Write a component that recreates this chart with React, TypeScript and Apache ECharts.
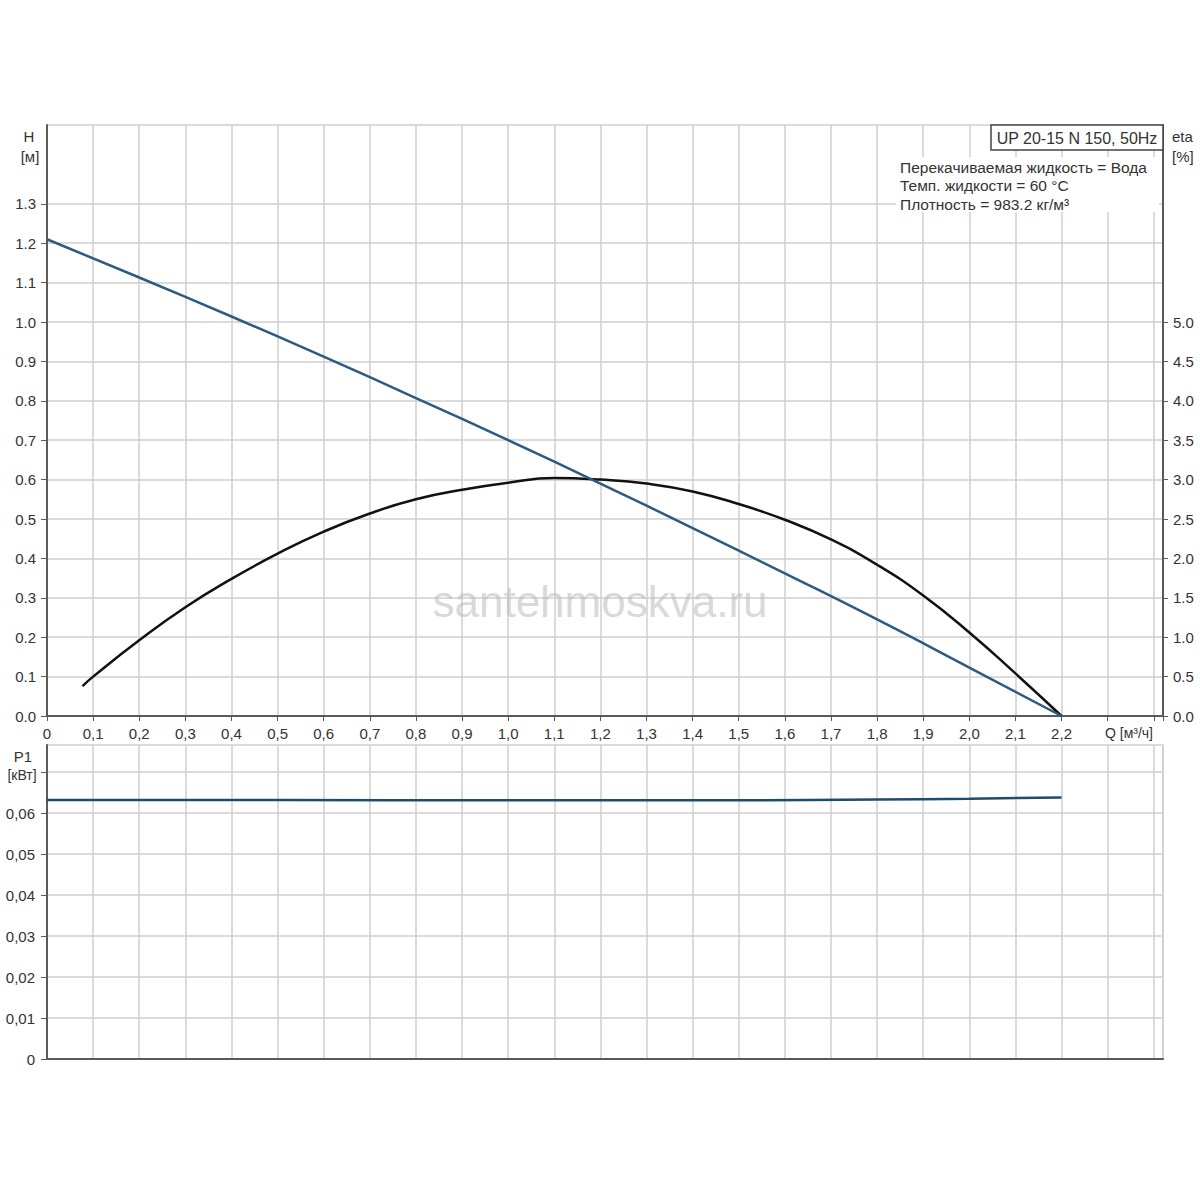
import React, { useEffect, useRef } from "react";
import * as echarts from "echarts";

// Flow Q [m³/h] for the head curve H [m]
const qHead = [0, 0.2, 0.4, 0.6, 0.8, 1.0, 1.2, 1.4, 1.6, 1.8, 2.0, 2.2];
const headValues = [1.21, 1.113, 1.014, 0.912, 0.807, 0.7, 0.59, 0.477, 0.362, 0.245, 0.123, 0.0];

// Efficiency eta [%]
const qEta = [0.077, 0.1, 0.2, 0.3, 0.4, 0.5, 0.6, 0.7, 0.8, 0.9, 1.0, 1.1, 1.2, 1.3, 1.4, 1.5, 1.6, 1.7, 1.8, 1.9, 2.0, 2.1, 2.2];
const etaValues = [0.38, 0.5, 0.96, 1.38, 1.74, 2.06, 2.34, 2.57, 2.75, 2.87, 2.96, 3.02, 3.0, 2.95, 2.85, 2.69, 2.49, 2.24, 1.92, 1.53, 1.06, 0.54, 0.0];

// Power P1 [kW]
const qPower = [0, 0.5, 1.0, 1.5, 1.8, 2.0, 2.2];
const powerValues = [0.0632, 0.0632, 0.0631, 0.0631, 0.0633, 0.0635, 0.0638];

// Axis settings and labelled ticks
const qMax = 2.42;
const qLabelMax = 2.2;
const headMax = 1.5;
const headTicks = [0, 0.1, 0.2, 0.3, 0.4, 0.5, 0.6, 0.7, 0.8, 0.9, 1.0, 1.1, 1.2, 1.3];
const etaMax = 7.5;
const etaTicks = [0, 0.5, 1.0, 1.5, 2.0, 2.5, 3.0, 3.5, 4.0, 4.5, 5.0];
const powerMax = 0.0766;
const powerTicks = [0, 0.01, 0.02, 0.03, 0.04, 0.05, 0.06, 0.07];
const powerLabelMax = 0.06;

const infoTitle = "UP 20-15 N 150, 50Hz";
const infoLines = [
  "Перекачиваемая жидкость = Вода",
  "Темп. жидкости = 60 °C",
  "Плотность = 983.2 кг/м³",
];

const FONT = "'Liberation Sans', Arial, sans-serif";
const GRID_COLOR = "#cfcfcf";
const AXIS_COLOR = "#5a5a5a";
const TEXT_COLOR = "#333";
const FS = 15;

export default function App() {
  const ref = useRef<HTMLDivElement>(null);

  useEffect(() => {
    if (!ref.current) return;
    const chart = echarts.init(ref.current, undefined, { renderer: "svg" });

    const pairs = (xs: number[], ys: number[]) => xs.map((x, i) => [x, ys[i]]);
    const near = (v: number, lim: number) => v <= lim + 1e-9;

    const xAxisBase = (gridIndex: number, showLabels: boolean) => ({
      type: "value",
      gridIndex,
      min: 0,
      max: qMax,
      interval: 0.1,
      axisLine: { show: true, onZero: false, lineStyle: { color: AXIS_COLOR, width: 2 } },
      axisTick: { show: showLabels, inside: false, length: 5, lineStyle: { color: AXIS_COLOR } },
      splitLine: { show: true, lineStyle: { color: GRID_COLOR, width: 1.5 } },
      axisLabel: {
        show: showLabels,
        margin: 10,
        fontSize: FS,
        fontFamily: FONT,
        color: TEXT_COLOR,
        showMaxLabel: true,
        formatter: (v: number) => {
          if (!near(v, qLabelMax)) return "";
          if (Math.abs(v) < 1e-9) return "0";
          return v.toFixed(1).replace(".", ",");
        },
      },
    });

    const option: any = {
      animation: false,
      backgroundColor: "#fff",
      grid: [
        { left: 47, top: 125, width: 1116, height: 591, show: true, borderColor: GRID_COLOR, borderWidth: 1.5, backgroundColor: "transparent" },
        { left: 47, top: 745, width: 1116, height: 314, show: true, borderColor: GRID_COLOR, borderWidth: 1.5, backgroundColor: "transparent" },
      ],
      xAxis: [xAxisBase(0, true), xAxisBase(1, false)],
      yAxis: [
        {
          type: "value",
          gridIndex: 0,
          min: 0,
          max: headMax,
          interval: 0.1,
          axisLine: { show: true, lineStyle: { color: AXIS_COLOR, width: 2 } },
          axisTick: { show: true, length: 6, customValues: headTicks, lineStyle: { color: AXIS_COLOR } },
          splitLine: { show: true, lineStyle: { color: GRID_COLOR, width: 1.5 } },
          axisLabel: {
            margin: 11,
            fontSize: FS,
            fontFamily: FONT,
            color: TEXT_COLOR,
            customValues: headTicks,
            formatter: (v: number) => v.toFixed(1),
          },
        },
        {
          type: "value",
          gridIndex: 0,
          position: "right",
          min: 0,
          max: etaMax,
          interval: 0.5,
          axisLine: { show: true, lineStyle: { color: AXIS_COLOR, width: 2 } },
          axisTick: { show: true, length: 5, customValues: etaTicks, lineStyle: { color: AXIS_COLOR } },
          splitLine: { show: false },
          axisLabel: {
            margin: 10,
            fontSize: FS,
            fontFamily: FONT,
            color: TEXT_COLOR,
            customValues: etaTicks,
            formatter: (v: number) => v.toFixed(1),
          },
        },
        {
          type: "value",
          gridIndex: 1,
          min: 0,
          max: powerMax,
          interval: 0.01,
          axisLine: { show: true, lineStyle: { color: AXIS_COLOR, width: 2 } },
          axisTick: { show: true, length: 6, customValues: powerTicks, lineStyle: { color: AXIS_COLOR } },
          splitLine: { show: true, lineStyle: { color: GRID_COLOR, width: 1.5 } },
          axisLabel: {
            margin: 12,
            fontSize: FS,
            fontFamily: FONT,
            color: TEXT_COLOR,
            formatter: (v: number) => {
              if (!near(v, powerLabelMax)) return "";
              if (Math.abs(v) < 1e-9) return "0";
              return v.toFixed(2).replace(".", ",");
            },
          },
        },
      ],
      series: [
        {
          name: "H",
          type: "line",
          xAxisIndex: 0,
          yAxisIndex: 0,
          data: pairs(qHead, headValues),
          smooth: true,
          showSymbol: false,
          lineStyle: { color: "#2d5a80", width: 2.5 },
          z: 4,
        },
        {
          name: "eta",
          type: "line",
          xAxisIndex: 0,
          yAxisIndex: 1,
          data: pairs(qEta, etaValues),
          smooth: true,
          showSymbol: false,
          lineStyle: { color: "#111", width: 2.5 },
          z: 3,
        },
        {
          name: "P1",
          type: "line",
          xAxisIndex: 1,
          yAxisIndex: 2,
          data: pairs(qPower, powerValues),
          smooth: true,
          showSymbol: false,
          lineStyle: { color: "#1f4c6b", width: 2.5 },
        },
      ],
      graphic: [
        // watermark
        {
          type: "text",
          x: 600,
          y: 601,
          z: 1,
          style: {
            text: "santehmoskva.ru",
            fontSize: 44,
            fontFamily: FONT,
            fill: "rgba(185,185,185,0.55)",
            align: "center",
            verticalAlign: "middle",
          },
        },
        // axis titles
        { type: "text", x: 29, y: 136, style: { text: "H", fontSize: FS, fontFamily: FONT, fill: TEXT_COLOR, align: "center", verticalAlign: "middle" } },
        { type: "text", x: 30, y: 156, style: { text: "[м]", fontSize: FS, fontFamily: FONT, fill: TEXT_COLOR, align: "center", verticalAlign: "middle" } },
        { type: "text", x: 1172, y: 136, style: { text: "eta", fontSize: FS, fontFamily: FONT, fill: TEXT_COLOR, align: "left", verticalAlign: "middle" } },
        { type: "text", x: 1172, y: 156, style: { text: "[%]", fontSize: FS, fontFamily: FONT, fill: TEXT_COLOR, align: "left", verticalAlign: "middle" } },
        { type: "text", x: 1129, y: 733, style: { text: "Q [м³/ч]", fontSize: 14, fontFamily: FONT, fill: TEXT_COLOR, align: "center", verticalAlign: "middle" } },
        { type: "text", x: 23, y: 756, style: { text: "P1", fontSize: FS, fontFamily: FONT, fill: TEXT_COLOR, align: "center", verticalAlign: "middle" } },
        { type: "text", x: 22, y: 775, style: { text: "[кВт]", fontSize: 14, fontFamily: FONT, fill: TEXT_COLOR, align: "center", verticalAlign: "middle" } },
        // info box
        {
          type: "rect",
          z: 10,
          shape: { x: 896, y: 157, width: 263, height: 55 },
          style: { fill: "#fff", stroke: "none" },
        },
        {
          type: "rect",
          z: 10,
          shape: { x: 991, y: 125, width: 172, height: 25 },
          style: { fill: "#fff", stroke: "#444", lineWidth: 1.5 },
        },
        {
          type: "text",
          z: 11,
          x: 1077,
          y: 138,
          style: { text: infoTitle, fontSize: 16, fontFamily: FONT, fill: TEXT_COLOR, align: "center", verticalAlign: "middle" },
        },
        ...infoLines.map((t, i) => ({
          type: "text",
          z: 11,
          x: 900,
          y: 167 + i * 18.5,
          style: { text: t, fontSize: 15.5, fontFamily: FONT, fill: TEXT_COLOR, align: "left", verticalAlign: "middle" },
        })),
      ],
    };

    chart.setOption(option);
    return () => chart.dispose();
  }, []);

  return (
    <div
      ref={ref}
      style={{ position: "fixed", left: 0, top: 0, width: 1200, height: 1200, background: "#fff" }}
    />
  );
}
